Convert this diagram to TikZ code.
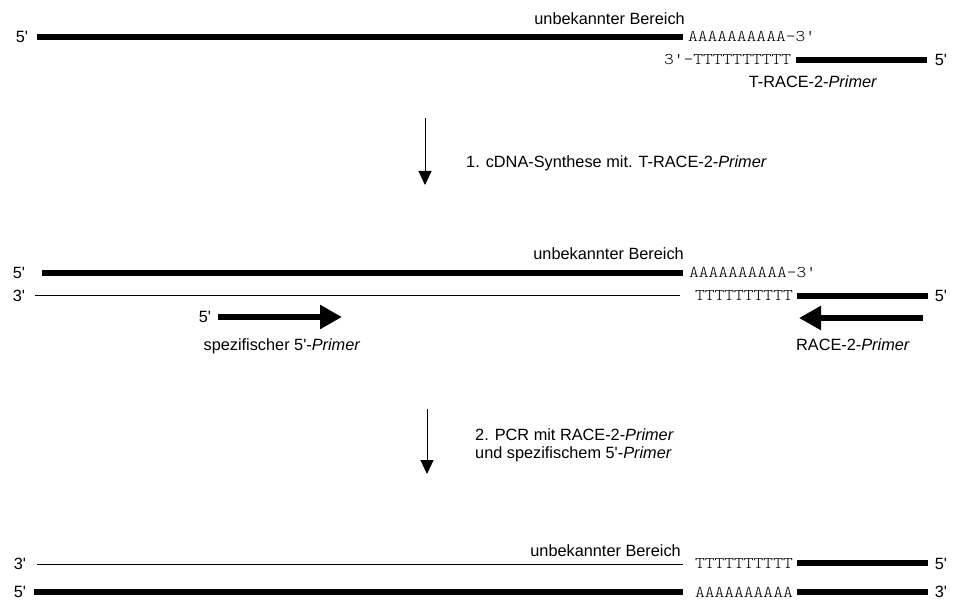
\documentclass[tikz,border=0pt]{standalone}
\usepackage{fontspec}
\usepackage{graphicx}
\setmainfont{Liberation Sans}
\usetikzlibrary{arrows.meta}
\newcommand\apos{\textquotesingle}
% typewriter sequence text, widened to Courier cell width
\newcommand\seqtext[1]{\scalebox{1.14}[1]{\fontseries{l}\ttfamily #1}}
\begin{document}
\begin{tikzpicture}[x=1pt,y=-1pt,
  every node/.style={inner sep=0pt, font=\fontsize{16.3}{19}\selectfont},
  seq/.style={anchor=west},
  dsthick/.style={line width=6pt},
  dsthin/.style={line width=1pt},
  primerarrow/.style={line width=6pt, -{Triangle[width=23pt,length=22pt]}},
  steparrow/.style={line width=1pt, -{Triangle[width=13pt,length=14pt]}}]
\useasboundingbox (0,0) rectangle (953,601);

% ---- mRNA with T-RACE-2 primer bound to the poly(A) tail
\node (a5) at (22,37) {5\apos};
\coordinate (a1l) at (37,37);
\coordinate (a1r) at (683,37);
\draw[dsthick] (a1l) -- (a1r);
\node[anchor=base east] (aub) at (685,25) {unbekannter Bereich};
\node[seq] (apolyA) at (688,37) {\seqtext{AAAAAAAAAA-3\apos}};
\node[seq] (apolyT) at (664,60) {\seqtext{3\apos-TTTTTTTTTT}};
\coordinate (a2l) at (796,60);
\coordinate (a2r) at (927,60);
\draw[dsthick] (a2l) -- (a2r);
\node (a5r) at (941,60) {5\apos};
\node[anchor=base] (atrace) at (813,88) {T-RACE-2-\textit{Primer}};

% ---- step 1
\coordinate (s1top) at (425,118);
\coordinate (s1tip) at (425,185);
\draw[steparrow] (s1top) -- (s1tip);
\node[anchor=base west] (s1lbl) at (466,168) {1. cDNA-Synthese mit. T-RACE-2-\textit{Primer}};

% ---- mRNA/cDNA hybrid with PCR primers
\node (b5) at (19,273) {5\apos};
\coordinate (b1l) at (42,273);
\coordinate (b1r) at (683,273);
\draw[dsthick] (b1l) -- (b1r);
\node[anchor=base east] (bub) at (684,260) {unbekannter Bereich};
\node[seq] (bpolyA) at (689,273) {\seqtext{AAAAAAAAAA-3\apos}};
\node (b3) at (19,296) {3\apos};
\coordinate (b2l) at (35,296);
\coordinate (b2r) at (680,296);
\draw[dsthin] (b2l) -- (b2r);
\node[seq] (bpolyT) at (695,296) {\seqtext{TTTTTTTTTT}};
\coordinate (b3l) at (797,296);
\coordinate (b3r) at (928,296);
\draw[dsthick] (b3l) -- (b3r);
\node (b5r) at (941,296) {5\apos};

\node (p5) at (205,317) {5\apos};
\coordinate (pfs) at (218,317);
\coordinate (pft) at (342,317);
\draw[primerarrow] (pfs) -- (pft);
\node[anchor=base] (pflbl) at (282,351) {spezifischer 5\apos-\textit{Primer}};

\coordinate (prs) at (923,318);
\coordinate (prt) at (799,318);
\draw[primerarrow] (prs) -- (prt);
\node[anchor=base] (prlbl) at (853,351) {RACE-2-\textit{Primer}};

% ---- step 2
\coordinate (s2top) at (427,409);
\coordinate (s2tip) at (427,474);
\draw[steparrow] (s2top) -- (s2tip);
\node[anchor=base west] (s2lbl) at (475,440) {2. PCR mit RACE-2-\textit{Primer}};
\node[anchor=base west] (s2lblb) at (475,458) {und spezifischem 5\apos-\textit{Primer}};

% ---- double-stranded PCR product
\node (c3) at (20,564) {3\apos};
\coordinate (c1l) at (37,564);
\coordinate (c1r) at (683,564);
\draw[dsthin] (c1l) -- (c1r);
\node[anchor=base east] (cub) at (681,556) {unbekannter Bereich};
\node[seq] (cpolyT) at (695,564) {\seqtext{TTTTTTTTTT}};
\coordinate (c2l) at (797,563);
\coordinate (c2r) at (928,563);
\draw[dsthick] (c2l) -- (c2r);
\node (c5r) at (941,564) {5\apos};

\node (d5) at (20,592) {5\apos};
\coordinate (d1l) at (34,592);
\coordinate (d1r) at (683,592);
\draw[dsthick] (d1l) -- (d1r);
\node[seq] (dpolyA) at (695,592) {\seqtext{AAAAAAAAAA}};
\coordinate (d2l) at (797,592);
\coordinate (d2r) at (928,592);
\draw[dsthick] (d2l) -- (d2r);
\node (d3r) at (941,592) {3\apos};
\end{tikzpicture}
\end{document}
